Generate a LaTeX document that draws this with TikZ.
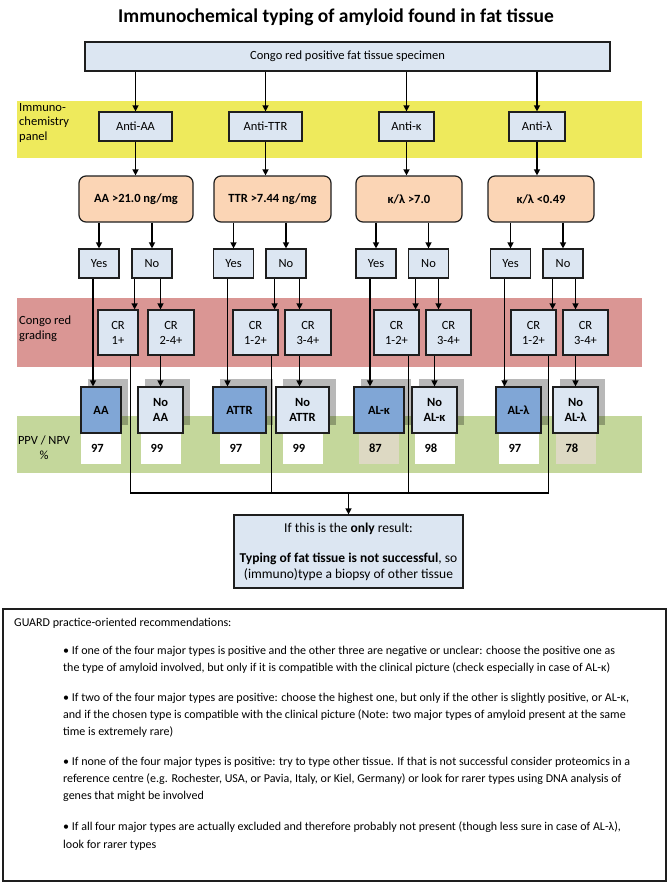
\documentclass[tikz,border=0pt]{standalone}
\usepackage{fontspec}
\setmainfont{Carlito}
\usetikzlibrary{arrows.meta,positioning,shadows}
\definecolor{boxfill}{RGB}{220,230,242}
\definecolor{condfill}{RGB}{251,213,181}
\definecolor{posfill}{RGB}{128,166,214}
\definecolor{bandyellow}{RGB}{238,234,92}
\definecolor{bandred}{RGB}{218,150,148}
\definecolor{bandgreen}{RGB}{196,215,155}
\definecolor{valtan}{RGB}{221,217,195}
\definecolor{edge}{RGB}{30,30,30}
\begin{document}
\begin{tikzpicture}[x=1pt, y=-1pt, >={Triangle[length=6pt,width=6pt]},
	box/.style={rectangle, draw=edge, line width=1.2pt, fill=boxfill, inner sep=0pt, minimum height=29pt, align=center, font=\fontsize{12.5}{15}\selectfont},
	crbox/.style={box, minimum height=45pt},
	cond/.style={box, rounded corners=7pt, fill=condfill, minimum height=46pt, font=\fontsize{12.5}{15}\selectfont\bfseries},
	result/.style={box, minimum height=46pt, font=\fontsize{12.5}{15}\selectfont\bfseries, drop shadow={shadow xshift=7pt, shadow yshift=8pt, fill=black, opacity=.28}},
	val/.style={rectangle, fill=white, minimum height=30pt, text width=20pt, inner xsep=10pt, inner ysep=0pt, outer sep=0pt, align=left, font=\fontsize{12.5}{15}\selectfont\bfseries},
	lbl/.style={inner sep=0pt, font=\fontsize{12.5}{14.5}\selectfont},
	rec/.style={inner sep=0pt, align=left, font=\fontsize{12}{17.2}\selectfont},
	link/.style={line width=1.3pt}]
		\fill[white] (0,0) rectangle (671,886);
		\useasboundingbox (0,0) rectangle (671,886);
		\fill[bandyellow] (17,101) rectangle (642,158);
		\fill[bandred] (17,298) rectangle (642,367);
		\fill[bandgreen] (17,416) rectangle (642,473);
		\node[lbl, align=left, anchor=north west] (immlbl) at (19,103) {Immuno-\\chemistry\\panel};
		\node[lbl, align=left, anchor=north west] (crlbl) at (19,316) {Congo red\\grading};
		\node[lbl, align=center] (ppvlbl) at (44,447.5) {PPV / NPV\\\%};
		\node[font=\fontsize{19.5}{23}\selectfont\bfseries] (title) at (336,17) {Immunochemical typing of amyloid found in fat tissue};
		\node[box, minimum width=525pt] (specimen) at (347.5,56.5) {Congo red positive fat tissue specimen};
		\node[box, minimum width=73pt] (antiaa) at (135.5,126.5) {Anti-AA};
		\node[box, minimum width=73pt] (antittr) at (265.5,126.5) {Anti-TTR};
		\node[box, minimum width=55pt] (antik) at (406.5,126.5) {Anti-κ};
		\node[box, minimum width=56pt] (antil) at (537,126.5) {Anti-λ};
		\node[cond, minimum width=114pt] (condaa) at (136,199) {AA >21.0 ng/mg};
		\node[cond, minimum width=117pt] (condttr) at (272.5,199) {TTR >7.44 ng/mg};
		\node[cond, minimum width=106pt] (condk) at (409,199) {κ/λ >7.0};
		\node[cond, minimum width=106pt] (condl) at (541,199) {κ/λ <0.49};
		\node[box, minimum width=40pt] (yesaa) at (99,263.5) {Yes};
		\node[box, minimum width=40pt] (noaa) at (152,263.5) {No};
		\node[box, minimum width=40pt] (yesttr) at (233.5,263.5) {Yes};
		\node[box, minimum width=40pt] (nottr) at (286,263.5) {No};
		\node[box, minimum width=40pt] (yesk) at (376,263.5) {Yes};
		\node[box, minimum width=40pt] (nok) at (428.5,263.5) {No};
		\node[box, minimum width=40pt] (yesl) at (510.5,263.5) {Yes};
		\node[box, minimum width=40pt] (nol) at (563,263.5) {No};
		\node[crbox, minimum width=40pt] (craa1) at (118,332.5) {CR\\1+};
		\node[crbox, minimum width=46pt] (craa2) at (171,332.5) {CR\\2-4+};
		\node[crbox, minimum width=45pt] (crttr1) at (255.5,332.5) {CR\\1-2+};
		\node[crbox, minimum width=46pt] (crttr2) at (308,332.5) {CR\\3-4+};
		\node[crbox, minimum width=45pt] (crk1) at (396.5,332.5) {CR\\1-2+};
		\node[crbox, minimum width=45pt] (crk2) at (448.5,332.5) {CR\\3-4+};
		\node[crbox, minimum width=45pt] (crl1) at (533.5,332.5) {CR\\1-2+};
		\node[crbox, minimum width=45pt] (crl2) at (585.5,332.5) {CR\\3-4+};
		\node[result, fill=posfill, minimum width=40pt] (posaa) at (101,410) {AA};
		\node[result, minimum width=45pt] (negaa) at (160.5,410) {No\\AA};
		\node[result, fill=posfill, minimum width=53pt] (posttr) at (239.5,410) {ATTR};
		\node[result, minimum width=53pt] (negttr) at (302.5,410) {No\\ATTR};
		\node[result, fill=posfill, minimum width=50pt] (posk) at (379,410) {AL-κ};
		\node[result, minimum width=45pt] (negk) at (434.5,410) {No\\AL-κ};
		\node[result, fill=posfill, minimum width=45pt] (posl) at (518.5,410) {AL-λ};
		\node[result, minimum width=45pt] (negl) at (575.5,410) {No\\AL-λ};
		\node[val, below=0pt of posaa] (vposaa) {97};
		\node[val, below=0pt of negaa] (vnegaa) {99};
		\node[val, below=0pt of posttr] (vposttr) {97};
		\node[val, below=0pt of negttr] (vnegttr) {99};
		\node[val, fill=valtan, below=0pt of posk] (vposk) {87};
		\node[val, below=0pt of negk] (vnegk) {98};
		\node[val, below=0pt of posl] (vposl) {97};
		\node[val, fill=valtan, below=0pt of negl] (vnegl) {78};
		\node[box, minimum width=229pt, minimum height=73pt, font=\fontsize{13.5}{15.3}\selectfont] (fail) at (348.5,551.5) {If this is the \textbf{only} result:\\[15.3pt]\textbf{Typing of fat tissue is not successful}, so\\(immuno)type a biopsy of other tissue};
		\coordinate (join) at (348.5,493);
		\draw[->, link] (antiaa |- specimen.south) -- (antiaa);
		\draw[->, link] (antittr |- specimen.south) -- (antittr);
		\draw[->, link] (antik |- specimen.south) -- (antik);
		\draw[->, link] (antil |- specimen.south) -- (antil);
		\draw[->, link] (antiaa) -- (antiaa |- condaa.north);
		\draw[->, link] (antittr) -- (antittr |- condttr.north);
		\draw[->, link] (antik) -- (antik |- condk.north);
		\draw[->, link] (antil) -- (antil |- condl.north);
		\draw[->, link] (yesaa |- condaa.south) -- (yesaa);
		\draw[->, link] (noaa |- condaa.south) -- (noaa);
		\draw[->, link] (yesttr |- condttr.south) -- (yesttr);
		\draw[->, link] (nottr |- condttr.south) -- (nottr);
		\draw[->, link] (yesk |- condk.south) -- (yesk);
		\draw[->, link] (nok |- condk.south) -- (nok);
		\draw[->, link] (yesl |- condl.south) -- (yesl);
		\draw[->, link] (nol |- condl.south) -- (nol);
		\draw[->, link] ([xshift=-6pt]yesaa.south) -- ([xshift=-6pt]yesaa.south |- posaa.north);
		\draw[->, link] ([xshift=-6pt]yesttr.south) -- ([xshift=-6pt]yesttr.south |- posttr.north);
		\draw[->, link] ([xshift=-6pt]yesk.south) -- ([xshift=-6pt]yesk.south |- posk.north);
		\draw[->, link] ([xshift=-6pt]yesl.south) -- ([xshift=-6pt]yesl.south |- posl.north);
		\draw[->, link] ([xshift=-4pt]craa1.north east |- noaa.south) -- ([xshift=-4pt]craa1.north east);
		\draw[->, link] ([xshift=-4pt]crttr1.north east |- nottr.south) -- ([xshift=-4pt]crttr1.north east);
		\draw[->, link] ([xshift=-4pt]crk1.north east |- nok.south) -- ([xshift=-4pt]crk1.north east);
		\draw[->, link] ([xshift=-4pt]crl1.north east |- nol.south) -- ([xshift=-4pt]crl1.north east);
		\draw[->, link] (negaa |- noaa.south) -- (negaa |- craa2.north);
		\draw[->, link] ([xshift=-3pt]negttr.north |- nottr.south) -- ([xshift=-3pt]negttr.north |- crttr2.north);
		\draw[->, link] ([xshift=4pt]negk.north |- nok.south) -- ([xshift=4pt]negk.north |- crk2.north);
		\draw[->, link] (negl |- nol.south) -- (negl |- crl2.north);
		\draw[->, link] (negaa |- craa2.south) -- (negaa);
		\draw[->, link] ([xshift=-3pt]negttr.north |- crttr2.south) -- ([xshift=-3pt]negttr.north);
		\draw[->, link] (negk |- crk2.south) -- (negk);
		\draw[->, link] (negl |- crl2.south) -- (negl);
		\draw[link] ([xshift=-8pt]craa1.south east) |- (join);
		\draw[link] ([xshift=-8pt]crl1.south east) |- (join);
		\draw[link] ([xshift=-7pt]crttr1.south east) -- ([xshift=-7pt]crttr1.south east |- join);
		\draw[link] ([xshift=-11pt]crk1.south east) -- ([xshift=-11pt]crk1.south east |- join);
		\draw[->, link] (join) -- (fail);
		\node[draw=edge, line width=1.2pt, minimum width=663pt, minimum height=272pt] (guard) at (334.5,745) {};
		\node[rec, anchor=west] (guardhead) at (14,623) {GUARD practice-oriented recommendations:};
		\node[rec, anchor=north west] (bulleta) at (63,646) {• If one of the four major types is positive and the other three are negative or unclear: choose the positive one as\\the type of amyloid involved, but only if it is compatible with the clinical picture (check especially in case of AL-κ)};
		\node[rec, anchor=north west] (bulletb) at (63,693) {• If two of the four major types are positive: choose the highest one, but only if the other is slightly positive, or AL-κ,\\and if the chosen type is compatible with the clinical picture (Note: two major types of amyloid present at the same\\time is extremely rare)};
		\node[rec, anchor=north west] (bulletc) at (63,757) {• If none of the four major types is positive: try to type other tissue. If that is not successful consider proteomics in a\\reference centre (e.g. Rochester, USA, or Pavia, Italy, or Kiel, Germany) or look for rarer types using DNA analysis of\\genes that might be involved};
		\node[rec, anchor=north west] (bulletd) at (63,822) {• If all four major types are actually excluded and therefore probably not present (though less sure in case of AL-λ),\\look for rarer types};
	\end{tikzpicture}
\end{document}
